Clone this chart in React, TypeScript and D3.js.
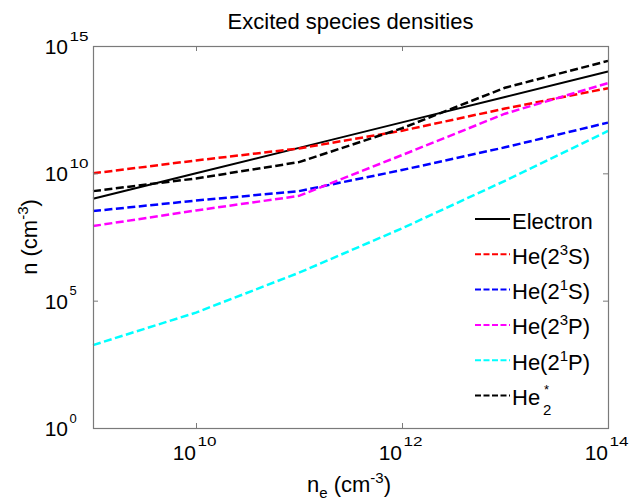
import React from "react";
import * as d3 from "d3";

// electron density n_e (cm^-3)
const neValues = [1e9, 1e10, 1e11, 1e12, 1e13, 1e14];
const electron = [1e9, 1e10, 1e11, 1e12, 1e13, 1e14];
const he23S = [1.0e10, 3.2e10, 9.5e10, 4.7e11, 3.5e12, 2.2e13];
const he21S = [3.3e8, 8.5e8, 2.0e9, 1.35e10, 1.05e11, 9.8e11];
const he23P = [8.5e7, 3.5e8, 1.3e9, 5.2e10, 2.2e12, 3.5e13];
const he21P = [1.8e3, 3.4e4, 1.25e6, 6.9e7, 5.1e9, 4.6e11];
const he2Star = [2.0e9, 6.3e9, 2.75e10, 5.9e11, 2.3e13, 2.6e14];

const xTicks = [1e10, 1e12, 1e14];
const xTickExp = ["10", "12", "14"];
const yTicks = [1, 1e5, 1e10, 1e15];
const yTickExp = ["0", "5", "10", "15"];

const seriesNames = ["Electron", "He23S", "He21S", "He23P", "He21P", "He2*"];
const seriesColors = ["#000000", "#ff0000", "#0000ff", "#ff00ff", "#00ffff", "#000000"];
const seriesDashed = [false, true, true, true, true, true];
const seriesValues = [electron, he23S, he21S, he23P, he21P, he2Star];

const FONT = "'Liberation Sans', Arial, Helvetica, sans-serif";

const W = 638;
const H = 500;
const left = 93;
const right = 608;
const top = 46;
const bottom = 428;

export default function App() {
  const x = d3.scaleLog().domain([1e9, 1e14]).range([left, right]);
  const y = d3.scaleLog().domain([1, 1e15]).range([bottom, top]);
  const line = d3
    .line<[number, number]>()
    .x((d) => x(d[0]))
    .y((d) => y(d[1]));

  const axisColor = "#7a7a7a";
  const tickLen = 5;

  const legendLineX0 = 475;
  const legendLineX1 = 510;
  const legendTextX = 512;
  const legendBase0 = 228.5;
  const legendStep = 35.3;

  const legendLabel = (i: number) => {
    const base = { fontFamily: FONT, fontSize: 22, fill: "#000" } as any;
    const yb = legendBase0 + i * legendStep;
    const n = seriesNames[i];
    if (n === "Electron") {
      return (
        <text x={legendTextX} y={yb} style={base}>
          Electron
        </text>
      );
    }
    if (n === "He2*") {
      return (
        <g>
          <text x={legendTextX} y={yb} style={base}>
            He
          </text>
          <text x={legendTextX + 31} y={yb + 10} style={{ ...base, fontSize: 15 }}>
            2
          </text>
          <text x={legendTextX + 32} y={yb - 11} style={{ ...base, fontSize: 13 }}>
            *
          </text>
        </g>
      );
    }
    const sup = n.charAt(3);
    const letter = n.charAt(4);
    return (
      <text x={legendTextX} y={yb} style={base}>
        He(2
        <tspan dy={-9} style={{ fontSize: 15 }}>
          {sup}
        </tspan>
        <tspan dy={9}>{letter})</tspan>
      </text>
    );
  };

  return (
    <svg
      width={W}
      height={H}
      style={{ position: "fixed", left: 0, top: 0, background: "#fff" }}
    >
      <rect x={0} y={0} width={W} height={H} fill="#fff" />
      {/* title */}
      <text
        x={350.5}
        y={29}
        textAnchor="middle"
        style={{ fontFamily: FONT, fontSize: 22, fill: "#000" }}
      >
        Excited species densities
      </text>

      {/* series */}
      <g>
        {seriesValues.map((vals, i) => (
          <path
            key={i}
            d={line(neValues.map((v, j) => [v, vals[j]] as [number, number])) || ""}
            fill="none"
            stroke={seriesColors[i]}
            strokeWidth={seriesDashed[i] ? 2.5 : 2}
            strokeDasharray={seriesDashed[i] ? "8,3.5" : undefined}
          />
        ))}
      </g>

      {/* axes box */}
      <rect
        x={left + 0.5}
        y={top + 0.5}
        width={right - left}
        height={bottom - top}
        fill="none"
        stroke={axisColor}
        strokeWidth={1.2}
      />
      {/* x ticks */}
      {xTicks.map((t, i) => (
        <g key={"xt" + i}>
          <line x1={x(t) + 0.5} x2={x(t) + 0.5} y1={bottom} y2={bottom - tickLen} stroke={axisColor} />
          <line x1={x(t) + 0.5} x2={x(t) + 0.5} y1={top} y2={top + tickLen} stroke={axisColor} />
          <text
            x={x(t)}
            y={460}
            textAnchor="end"
            style={{ fontFamily: FONT, fontSize: 21, fill: "#000" }}
          >
            10
          </text>
          <text
            x={x(t) + 1.5}
            y={446}
            textLength={xTickExp[i].length > 1 ? 19 : undefined}
            lengthAdjust="spacingAndGlyphs"
            style={{ fontFamily: FONT, fontSize: 13, fill: "#000" }}
          >
            {xTickExp[i]}
          </text>
        </g>
      ))}
      {/* y ticks */}
      {yTicks.map((t, i) => (
        <g key={"yt" + i}>
          <line x1={left} x2={left + tickLen} y1={y(t) + 0.5} y2={y(t) + 0.5} stroke={axisColor} />
          <line x1={right} x2={right - tickLen} y1={y(t) + 0.5} y2={y(t) + 0.5} stroke={axisColor} />
          <text
            x={68}
            y={y(t) + 8}
            textAnchor="end"
            style={{ fontFamily: FONT, fontSize: 21, fill: "#000" }}
          >
            10
          </text>
          <text
            x={69.5}
            y={y(t) - 5.5}
            textLength={yTickExp[i].length > 1 ? 19 : undefined}
            lengthAdjust="spacingAndGlyphs"
            style={{ fontFamily: FONT, fontSize: 13, fill: "#000" }}
          >
            {yTickExp[i]}
          </text>
        </g>
      ))}

      {/* x axis label */}
      <text
        x={349}
        y={492}
        textAnchor="middle"
        style={{ fontFamily: FONT, fontSize: 22, fill: "#000" }}
      >
        n
        <tspan dy={6} style={{ fontSize: 15 }}>
          e
        </tspan>
        <tspan dy={-6}> (cm</tspan>
        <tspan dy={-9} style={{ fontSize: 15 }}>
          -3
        </tspan>
        <tspan dy={9}>)</tspan>
      </text>

      {/* y axis label */}
      <text
        transform={`translate(37,${(top + bottom) / 2}) rotate(-90)`}
        textAnchor="middle"
        style={{ fontFamily: FONT, fontSize: 22, fill: "#000" }}
      >
        n (cm
        <tspan dy={-9} style={{ fontSize: 15 }}>
          -3
        </tspan>
        <tspan dy={9}>)</tspan>
      </text>

      {/* legend */}
      {seriesNames.map((n, i) => {
        const ly = legendBase0 + i * legendStep - 9.5;
        return (
          <g key={"lg" + i}>
            <line
              x1={legendLineX0}
              x2={legendLineX1}
              y1={ly}
              y2={ly}
              stroke={seriesColors[i]}
              strokeWidth={2}
              strokeDasharray={seriesDashed[i] ? "6,2.5" : undefined}
            />
            {legendLabel(i)}
          </g>
        );
      })}
    </svg>
  );
}
